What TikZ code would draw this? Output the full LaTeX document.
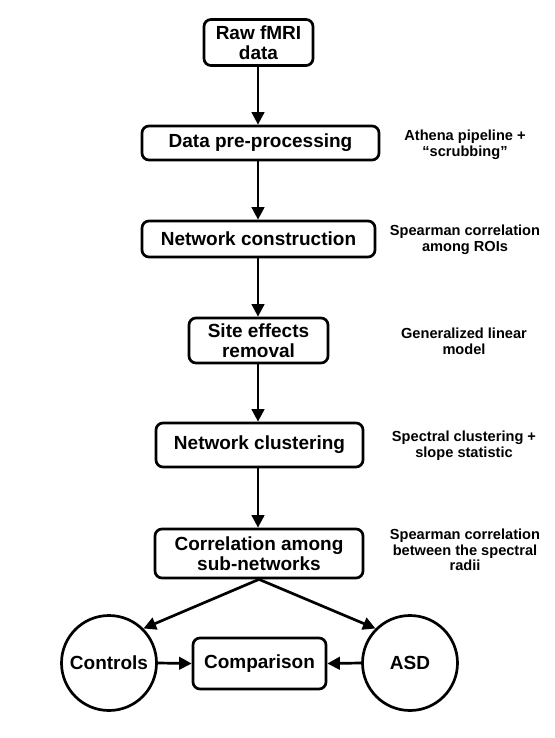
\documentclass[tikz,border=0pt]{standalone}
\usepackage{fontspec}
\setmainfont{Liberation Sans}
\usetikzlibrary{arrows.meta}
\begin{document}
\begin{tikzpicture}[x=1pt,y=-1pt,
  box/.style={draw=black,line width=2.7pt,rounded corners=7pt,align=center,inner sep=0pt,
    font=\fontsize{19}{20.5}\selectfont\bfseries},
  circ/.style={draw=black,line width=2.7pt,circle,inner sep=0pt,minimum size=95pt,
    font=\fontsize{19}{20.5}\selectfont\bfseries},
  side/.style={align=center,inner sep=0pt,font=\fontsize{14.6}{15.6}\selectfont\bfseries},
  arr/.style={line width=2.7pt,-{Triangle[length=12.5pt,width=12.5pt]}}]
\useasboundingbox (0,0) rectangle (554,738);
\node[box,minimum width=109pt,minimum height=46pt] (raw) at (258.5,42.5) {Raw fMRI\\data};
\node[box,minimum width=237pt,minimum height=34pt] (pre) at (260.5,143) {Data pre-processing};
\node[box,minimum width=233pt,minimum height=36pt] (net) at (258.5,239) {Network construction};
\node[box,minimum width=139pt,minimum height=45pt] (site) at (258.5,340.5) {Site effects\\removal};
\node[box,minimum width=207pt,minimum height=44pt] (clus) at (259.5,445) {Network clustering};
\node[box,minimum width=208pt,minimum height=49pt] (corr) at (259,553.5) {Correlation among\\sub-networks};
\node[circ] (ctrl) at (109,663) {Controls};
\node[box,minimum width=133pt,minimum height=51pt] (comp) at (259.5,663.5) {Comparison};
\node[circ] (asd) at (410,663) {ASD};

\node[side] (t1) at (465,145) {Athena pipeline +\\“scrubbing”};
\node[side] (t2) at (465,240) {Spearman correlation\\among ROIs};
\node[side] (t3) at (464,341.5) {Generalized linear\\model};
\node[side] (t4) at (464,446) {Spectral clustering +\\slope statistic};
\node[side] (t5) at (465,550) {Spearman correlation\\between the spectral\\radii};

\coordinate (ax) at (258,0);
\draw[arr] (raw.south -| ax) -- (pre.north -| ax);
\draw[arr] (pre.south -| ax) -- (net.north -| ax);
\draw[arr] (net.south -| ax) -- (site.north -| ax);
\draw[arr] (site.south -| ax) -- (clus.north -| ax);
\draw[arr] (clus.south -| ax) -- (corr.north -| ax);
\draw[arr] (corr.south) -- (ctrl.45);
\draw[arr] (corr.south) -- (asd.135);
\draw[arr] (ctrl.east) -- (comp.west);
\draw[arr] (asd.west) -- (comp.east);
\end{tikzpicture}
\end{document}
